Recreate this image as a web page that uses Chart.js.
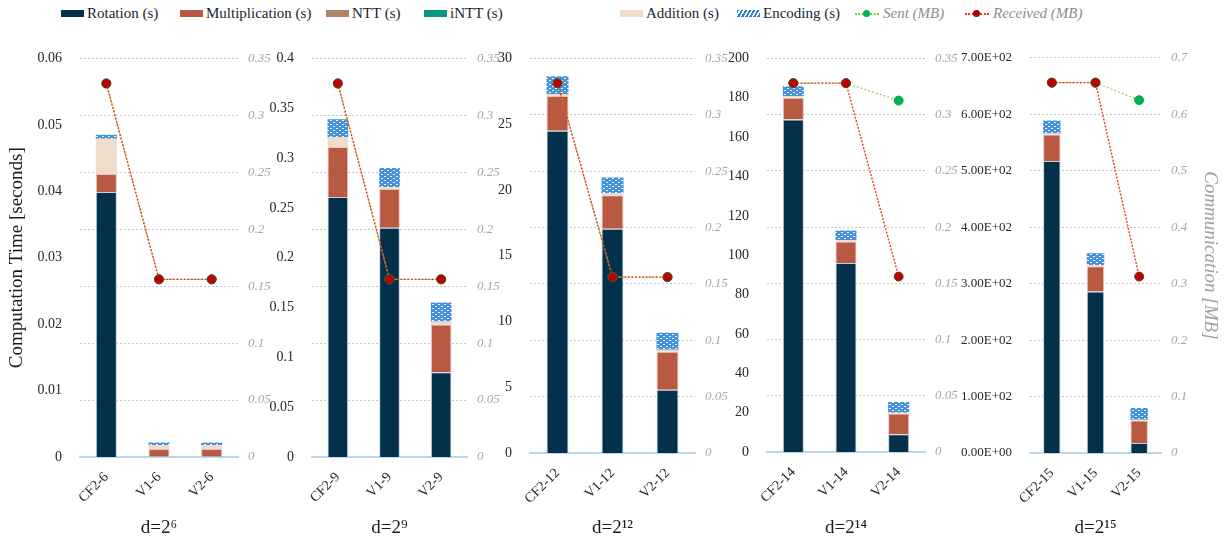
<!DOCTYPE html>
<html lang="en">
<head>
<meta charset="UTF-8">
<title>Computation and communication</title>
<script src="https://cdn.jsdelivr.net/npm/chart.js"></script>
<style>
  body { margin: 0; background: #fff; width: 1231px; height: 544px; position: relative; overflow: hidden; font-family: "Liberation Serif", serif; }
  .legend-item { position: absolute; top: 4px; height: 18px; display: flex; align-items: center; font-family: "Liberation Serif", "DejaVu Serif", serif; font-size: 15px; color: #1b2430; white-space: nowrap; }
  .legend-item.comm { color: #8c8c8c; font-style: italic; }
  .swatch { width: 23px; height: 7px; margin-right: 3px; }
  .dotline { position: relative; width: 24px; height: 7px; margin-right: 4px; }
  .dotline::before { content: ""; position: absolute; left: 0; right: 0; top: 3px; border-top: 2px dotted var(--c); }
  .dotline::after { content: ""; position: absolute; left: 8px; top: 0; width: 7px; height: 7px; border-radius: 50%; background: var(--d); }
  .panel { position: absolute; top: 40px; height: 504px; }
</style>
</head>
<body>

<!-- legend -->
<div class="legend-item" style="left:61px"><span class="swatch" style="background:#03304a"></span>Rotation (s)</div>
<div class="legend-item" style="left:180px"><span class="swatch" style="background:#b85942"></span>Multiplication (s)</div>
<div class="legend-item" style="left:326px"><span class="swatch" style="background:#b08462"></span>NTT (s)</div>
<div class="legend-item" style="left:424px"><span class="swatch" style="background:#0b9682"></span>iNTT (s)</div>
<div class="legend-item" style="left:620px"><span class="swatch" style="background:#efdccb"></span>Addition (s)</div>
<div class="legend-item" style="left:737px"><span class="swatch" style="background:repeating-linear-gradient(120deg,#2f7ed8 0 2px,#fff 2px 3.5px)"></span>Encoding (s)</div>
<div class="legend-item comm" style="left:855px"><span class="dotline" style="--c:#6fd24f;--d:#00b050"></span>Sent (MB)</div>
<div class="legend-item comm" style="left:965px"><span class="dotline" style="--c:#ff2a2a;--d:#a00000"></span>Received (MB)</div>

<div class="panel" id="p0"><canvas id="c0"></canvas></div>
<div class="panel" id="p1"><canvas id="c1"></canvas></div>
<div class="panel" id="p2"><canvas id="c2"></canvas></div>
<div class="panel" id="p3"><canvas id="c3"></canvas></div>
<div class="panel" id="p4"><canvas id="c4"></canvas></div>

<script>
// ---- data (one sub-array per panel) ----
const panelTitles = ['d=2⁶', 'd=2⁹', 'd=2¹²', 'd=2¹⁴', 'd=2¹⁵'];
const categories = [
  ['CF2-6', 'V1-6', 'V2-6'],
  ['CF2-9', 'V1-9', 'V2-9'],
  ['CF2-12', 'V1-12', 'V2-12'],
  ['CF2-14', 'V1-14', 'V2-14'],
  ['CF2-15', 'V1-15', 'V2-15']
];
const rotation = [
  [0.0399, 0.0001, 0.0001],
  [0.261, 0.230, 0.085],
  [24.5, 17.05, 4.8],
  [169, 96, 9],
  [517, 286, 17.5]
];
const multiplication = [
  [0.0027, 0.0011, 0.0011],
  [0.050, 0.039, 0.048],
  [2.65, 2.55, 2.9],
  [11, 11, 10.5],
  [47, 45, 40]
];
const ntt = [
  [0, 0, 0], [0, 0, 0], [0, 0, 0], [0, 0, 0], [0, 0, 0]
];
const intt = [
  [0, 0, 0], [0, 0, 0], [0, 0, 0], [0, 0, 0], [0, 0, 0]
];
const addition = [
  [0.0053, 0.0006, 0.0006],
  [0.010, 0.002, 0.003],
  [0.15, 0.15, 0.15],
  [0.8, 0.6, 0.5],
  [2, 2, 1.2]
];
const encoding = [
  [0.0006, 0.0004, 0.0004],
  [0.018, 0.019, 0.019],
  [1.35, 1.2, 1.3],
  [5, 5, 5.4],
  [23, 21, 21]
];
const sentMB = [
  [0.328, 0.156, 0.156],
  [0.328, 0.156, 0.156],
  [0.328, 0.156, 0.156],
  [0.328, 0.328, 0.3125],
  [0.656, 0.656, 0.625]
];
const receivedMB = [
  [0.328, 0.156, 0.156],
  [0.328, 0.156, 0.156],
  [0.328, 0.156, 0.156],
  [0.328, 0.328, 0.156],
  [0.656, 0.656, 0.3125]
];
const timeMax = [0.06, 0.4, 30, 200, 700];
const timeStep = [0.01, 0.05, 5, 20, 100];
const commMax = [0.35, 0.35, 0.35, 0.35, 0.7];
const commStep = [0.05, 0.05, 0.05, 0.05, 0.1];

// ---- layout of each panel (pixels in the page) ----
const frames = [
  { plotL: 80, plotR: 238, padL: 80, padR: 45, top: 52, bottom: 457 },
  { plotL: 312, plotR: 467, padL: 42, padR: 40, top: 52, bottom: 457 },
  { plotL: 530, plotR: 695, padL: 35, padR: 40, top: 52, bottom: 453 },
  { plotL: 767, plotR: 925, padL: 40, padR: 40, top: 51, bottom: 452 },
  { plotL: 1030, plotR: 1161, padL: 75, padR: 70, top: 51, bottom: 453 }
];
const CANVAS_TOP = 40, CANVAS_H = 504;
const serif = '"Liberation Serif", "DejaVu Serif", serif';

// blue speckle fill for the Encoding segments
function makeEncodingPattern() {
  const c = document.createElement('canvas');
  c.width = 6; c.height = 4;
  const g = c.getContext('2d');
  g.fillStyle = '#4592dc';
  g.fillRect(0, 0, 6, 4);
  g.fillStyle = '#f2f7fd';
  [[0, 0], [1, 0], [3, 2], [4, 2]].forEach(p => g.fillRect(p[0], p[1], 1, 1));
  return g.createPattern(c, 'repeat');
}
const encodingFill = makeEncodingPattern();

function plain(v) { return String(parseFloat(v.toFixed(6))); }
function sci(v) {
  if (v === 0) return '0.00E+00';
  const e = Math.floor(Math.log10(v) + 1e-9);
  const m = v / Math.pow(10, e);
  return m.toFixed(2) + 'E' + (e < 0 ? '-' : '+') + String(Math.abs(e)).padStart(2, '0');
}

function barSet(label, data, color, border) {
  return {
    type: 'bar', label: label, data: data, backgroundColor: color,
    borderColor: border || 'rgba(190,205,218,0.9)', borderWidth: border === null ? 0 : 1,
    stack: 'time', yAxisID: 'y', order: 2,
    categoryPercentage: 0.8, barPercentage: 0.5
  };
}

for (let i = 0; i < 5; i++) {
  const f = frames[i];
  const box = document.getElementById('p' + i);
  box.style.left = (f.plotL - f.padL) + 'px';
  box.style.width = (f.padL + (f.plotR - f.plotL) + f.padR) + 'px';
  const xHeight = CANVAS_H - (f.bottom - CANVAS_TOP);

  new Chart(document.getElementById('c' + i), {
    type: 'bar',
    data: {
      labels: categories[i],
      datasets: [
        {
          type: 'line', label: 'Received (MB)', data: receivedMB[i], yAxisID: 'y1', order: 0,
          borderColor: '#ee3a1e', borderWidth: 1.4, borderDash: [2, 1.5], fill: false,
          pointRadius: 4.5, pointBackgroundColor: '#c00000', pointBorderColor: '#5b4320', pointBorderWidth: 1
        },
        {
          type: 'line', label: 'Sent (MB)', data: sentMB[i], yAxisID: 'y1', order: 1,
          borderColor: '#92d050', borderWidth: 1.2, borderDash: [2, 2], fill: false,
          pointRadius: 4.5, pointBackgroundColor: '#00b050', pointBorderColor: '#00b050', pointBorderWidth: 1
        },
        barSet('Rotation (s)', rotation[i], '#03304a'),
        barSet('Multiplication (s)', multiplication[i], '#b85942', 'rgba(235,190,180,0.9)'),
        barSet('NTT (s)', ntt[i], '#b08462', null),
        barSet('iNTT (s)', intt[i], '#0b9682', null),
        barSet('Addition (s)', addition[i], '#efdccb', null),
        barSet('Encoding (s)', encoding[i], encodingFill, null)
      ]
    },
    options: {
      responsive: true,
      maintainAspectRatio: false,
      animation: false,
      layout: { padding: { top: f.top - CANVAS_TOP, left: 0, right: 0, bottom: 0 } },
      plugins: { legend: { display: false }, tooltip: { enabled: false } },
      scales: {
        x: {
          stacked: true,
          grid: { display: false },
          border: { display: true, color: '#bcd6ec', width: 2 },
          ticks: { minRotation: 45, maxRotation: 45, color: '#262626', font: { family: serif, size: 14 }, padding: 4 },
          title: { display: true, text: panelTitles[i], color: '#1a1a1a', font: { family: serif, size: 19 }, padding: { top: 0, bottom: 5 } },
          afterFit: s => { s.height = xHeight; }
        },
        y: {
          stacked: true, position: 'left', min: 0, max: timeMax[i],
          grid: { display: false },
          border: { display: false },
          ticks: {
            stepSize: timeStep[i], padding: 10, color: '#262626',
            font: { family: serif, size: i === 4 ? 13 : 14 },
            callback: v => (i === 4 ? sci(v) : plain(v))
          },
          title: {
            display: i === 0, text: 'Computation Time [seconds]', color: '#1a1a1a',
            font: { family: serif, size: 19 }, padding: { top: 6, bottom: 0 }
          },
          afterFit: s => { s.width = f.padL; }
        },
        y1: {
          position: 'right', min: 0, max: commMax[i],
          grid: { display: true, drawTicks: false, color: '#c4c4c4', lineWidth: 1 },
          border: { display: false, dash: [2, 2] },
          ticks: {
            stepSize: commStep[i], padding: 10, color: '#a6a6a6',
            font: { family: serif, size: 13, style: 'italic' },
            callback: v => plain(v)
          },
          title: {
            display: i === 4, text: 'Communication [MB]', color: '#a0a0a0',
            font: { family: serif, size: 19, style: 'italic' }, padding: { top: 10, bottom: 0 }
          },
          afterFit: s => { s.width = f.padR; }
        }
      }
    }
  });
}
</script>
</body>
</html>
